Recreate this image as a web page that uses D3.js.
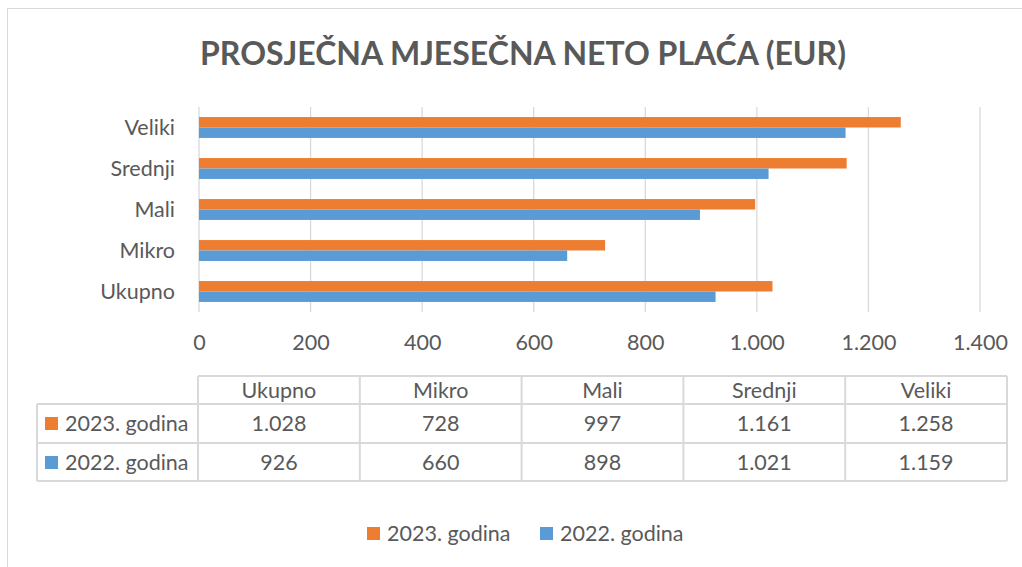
<!DOCTYPE html>
<html>
<head>
<meta charset="utf-8">
<script src="https://cdn.jsdelivr.net/npm/d3@7"></script>
<style>
  body { margin: 0; background: #fff; }
  text { font-family: Lato, "Open Sans", sans-serif; fill: #595959; }
</style>
</head>
<body>
<div id="chart-area"></div>
<script>
const width = 1022;
const height = 567;

// data
const categories = ["Ukupno", "Mikro", "Mali", "Srednji", "Veliki"];
const series = ["2023. godina", "2022. godina"];
const values2023 = [1028, 728, 997, 1161, 1258];
const values2022 = [926, 660, 898, 1021, 1159];
const xTicks = [0, 200, 400, 600, 800, 1000, 1200, 1400];
const colors = ["#ED7D31", "#5B9BD5"];

const locale = d3.formatLocale({decimal: ",", thousands: ".", grouping: [3], currency: ["", ""]});
const fmt = locale.format(",d");

const plot = {top: 107, bottom: 312, left: 199, right: 980};
const fontSize = "21.5px";

var svg = d3.select("#chart-area").append("svg")
	.attr("width", width)
	.attr("height", height);

// chart border
svg.append("rect")
	.attr("x", 7.5).attr("y", 8.5)
	.attr("width", 1200).attr("height", 1000)
	.attr("fill", "none")
	.attr("stroke", "#D9D9D9")
	.attr("stroke-width", 1);

// title
svg.append("text")
	.attr("x", 523)
	.attr("y", 65)
	.attr("text-anchor", "middle")
	.style("font-size", "32px")
	.style("font-weight", "bold")
	.text("PROSJEČNA MJESEČNA NETO PLAĆA (EUR)");

var x = d3.scaleLinear()
	.domain([0, 1400])
	.range([plot.left, plot.right]);

var y = d3.scaleBand()
	.domain(categories.slice().reverse())
	.range([plot.top, plot.bottom])
	.paddingInner(0.49)
	.paddingOuter(0.245);

var ySub = d3.scaleBand()
	.domain(series)
	.range([0, y.bandwidth()]);

// gridlines
svg.append("g")
	.selectAll("line")
	.data(xTicks)
	.enter().append("line")
	.attr("x1", d => x(d)).attr("x2", d => x(d))
	.attr("y1", plot.top).attr("y2", plot.bottom)
	.attr("stroke", "#D9D9D9")
	.attr("stroke-width", 1.3);

// bars
var rows = categories.map((c, i) => ({cat: c, vals: [values2023[i], values2022[i]]}));

var groups = svg.append("g")
	.selectAll("g")
	.data(rows)
	.enter().append("g")
	.attr("transform", d => `translate(0,${y(d.cat)})`);

groups.selectAll("rect")
	.data(d => d.vals.map((v, j) => ({s: series[j], v: v, j: j})))
	.enter().append("rect")
	.attr("x", x(0))
	.attr("y", d => ySub(d.s))
	.attr("width", d => x(d.v) - x(0))
	.attr("height", ySub.bandwidth())
	.attr("fill", d => colors[d.j]);

// category labels
var yAxis = svg.append("g")
	.attr("transform", `translate(${plot.left - 24},0)`)
	.call(d3.axisLeft(y).tickSize(0).tickPadding(0));
yAxis.select(".domain").remove();
yAxis.selectAll("text")
	.style("font-size", fontSize)
	.style("font-family", "Lato, sans-serif")
	.attr("fill", "#595959")
	.attr("dy", "0.35em");

// x tick labels
var xAxis = svg.append("g")
	.attr("transform", `translate(0,${plot.bottom})`)
	.call(d3.axisBottom(x).tickValues(xTicks).tickFormat(fmt).tickSize(0).tickPadding(0));
xAxis.select(".domain").remove();
xAxis.selectAll("text")
	.attr("y", 38)
	.attr("dy", 0)
	.style("font-size", fontSize)
	.style("font-family", "Lato, sans-serif")
	.attr("fill", "#595959");

// data table
const table = {left: 37, colLeft: 198, right: 1007, rowY: [376, 404, 443, 481]};

var col = d3.scaleBand()
	.domain(categories)
	.range([table.colLeft, table.right]);

var tg = svg.append("g")
	.attr("stroke", "#D9D9D9")
	.attr("stroke-width", 2);

// horizontal lines
tg.append("line").attr("x1", table.colLeft).attr("x2", table.right)
	.attr("y1", table.rowY[0]).attr("y2", table.rowY[0]);
table.rowY.slice(1).forEach(yy => {
	tg.append("line").attr("x1", table.left).attr("x2", table.right)
		.attr("y1", yy).attr("y2", yy);
});
// vertical lines
tg.append("line").attr("x1", table.left).attr("x2", table.left)
	.attr("y1", table.rowY[1]).attr("y2", table.rowY[3]);
col.domain().concat(["_end"]).forEach((c, i) => {
	var xx = i < categories.length ? col(c) : table.right;
	tg.append("line").attr("x1", xx).attr("x2", xx)
		.attr("y1", table.rowY[0]).attr("y2", table.rowY[3]);
});

// header
svg.append("g")
	.selectAll("text")
	.data(categories)
	.enter().append("text")
	.attr("x", d => col(d) + col.bandwidth() / 2)
	.attr("y", 398)
	.attr("text-anchor", "middle")
	.style("font-size", fontSize)
	.text(d => d);

// table rows
var tableRows = [values2023, values2022];
tableRows.forEach((vals, r) => {
	var base = [431, 470][r];
	svg.append("rect")
		.attr("x", 45).attr("y", base - 14)
		.attr("width", 13).attr("height", 13)
		.attr("fill", colors[r]);
	svg.append("text")
		.attr("x", 65).attr("y", base)
		.style("font-size", fontSize)
		.text(series[r]);
	svg.append("g")
		.selectAll("text")
		.data(vals)
		.enter().append("text")
		.attr("x", (d, i) => col(categories[i]) + col.bandwidth() / 2)
		.attr("y", base)
		.attr("text-anchor", "middle")
		.style("font-size", fontSize)
		.text(d => fmt(d));
});

// legend
const legendX = [367, 540];
series.forEach((s, i) => {
	svg.append("rect")
		.attr("x", legendX[i]).attr("y", 527)
		.attr("width", 13).attr("height", 13)
		.attr("fill", colors[i]);
	svg.append("text")
		.attr("x", legendX[i] + 20).attr("y", 541)
		.style("font-size", fontSize)
		.text(s);
});
</script>
</body>
</html>
